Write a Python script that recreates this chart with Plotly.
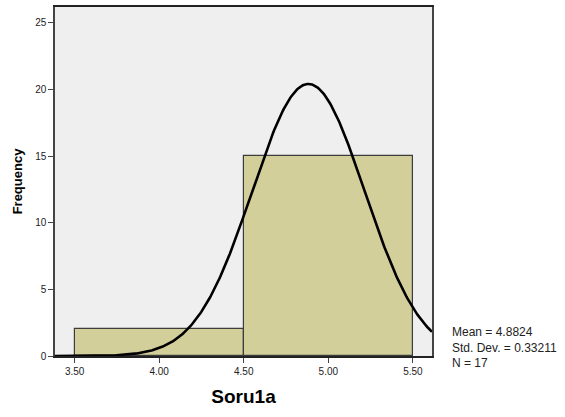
import numpy as np
import plotly.graph_objects as go

# Histogram of Soru1a: bins of width 1 starting at 3.5 and 4.5
bin_left = [3.5, 4.5]
bin_width = [1.0, 1.0]
counts = [2, 15]

# Descriptive statistics shown beside the chart
mean = 4.8824
std_dev = 0.33211
n_obs = 17

x_ticks = [3.5, 4.0, 4.5, 5.0, 5.5]
x_tick_text = ["3.50", "4.00", "4.50", "5.00", "5.50"]
y_ticks = [0, 5, 10, 15, 20, 25]

x_range = [3.384, 5.613]
y_range = [0, 26.2]

fig = go.Figure()

fig.add_trace(go.Bar(
    x=bin_left, y=counts, width=bin_width, offset=0,
    marker=dict(color="#d3cf9a", line=dict(color="#3c3c3c", width=1.2)),
    hoverinfo="skip", showlegend=False,
))

# Fitted normal curve scaled to counts (N * bin width * pdf)
xs = np.linspace(x_range[0], x_range[1], 400)
ys = n_obs * 1.0 / (std_dev * np.sqrt(2 * np.pi)) * np.exp(-0.5 * ((xs - mean) / std_dev) ** 2)
fig.add_trace(go.Scatter(
    x=xs, y=ys, mode="lines", line=dict(color="black", width=2.6),
    hoverinfo="skip", showlegend=False,
))

font = "Liberation Sans, Arial, sans-serif"

# plot area in pixels: left 55, right 432, top 5, bottom 356
plot_w = 565 - 55 - 133
plot_h = 417 - 5 - 61

fig.update_layout(
    width=565, height=417,
    margin=dict(l=55, r=133, t=5, b=61),
    paper_bgcolor="white", plot_bgcolor="#efefef",
    bargap=0,
    font=dict(family=font, size=10, color="#222"),
    xaxis=dict(
        range=x_range, tickvals=x_ticks, ticktext=x_tick_text,
        ticks="outside", ticklen=5, tickcolor="#444", tickwidth=1,
        showgrid=False, zeroline=False,
        showline=True, linecolor="#222", linewidth=1.5, mirror=True,
        tickfont=dict(size=10, color="#222"),
        title=dict(text="<b>Soru1a</b>", font=dict(size=19, color="black"), standoff=14),
    ),
    yaxis=dict(
        range=y_range, tickvals=y_ticks,
        ticks="outside", ticklen=5, tickcolor="#444", tickwidth=1,
        showgrid=False, zeroline=False,
        showline=True, linecolor="#444", linewidth=1.5, mirror=True,
        tickfont=dict(size=10, color="#222"),
        title=dict(text="<b>Frequency</b>", font=dict(size=13, color="black"), standoff=10),
    ),
    annotations=[dict(
        xref="paper", yref="paper",
        x=(450 - 55) / plot_w, y=(356 - 347) / plot_h,
        showarrow=False, xanchor="left", yanchor="middle", align="left",
        text=f"Mean = {mean}<br>Std. Dev. = {std_dev}<br>N = {n_obs}",
        font=dict(size=12, color="#222", family=font),
    )],
)

fig.write_html("out.html")
